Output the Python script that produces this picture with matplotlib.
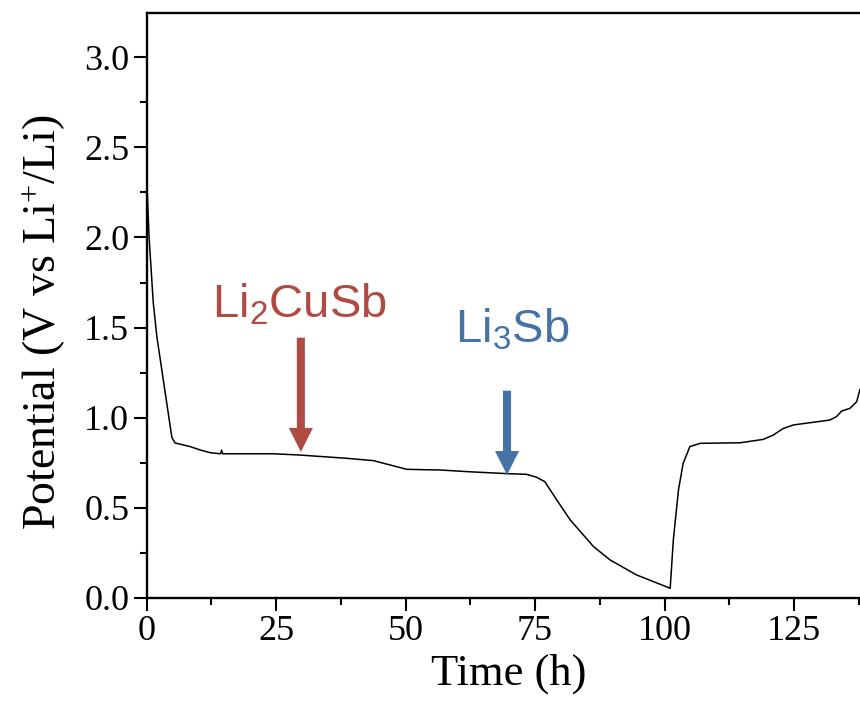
#! /usr/bin/env python3

import numpy as np
import matplotlib
matplotlib.use("Agg")
import matplotlib.pyplot as plt
from matplotlib.ticker import MultipleLocator, FormatStrFormatter

# potential profile
time_h = [0.0, 0.5, 1.3, 2.0, 4.9, 5.5, 8.4, 10.5, 12.3, 14.3, 14.5, 14.7,
          20.0, 24.5, 29.6, 38.6, 43.8, 47.0, 50.2, 53.0, 56.7, 62.5, 69.5,
          73.4, 75.3, 76.9, 79.2, 81.8, 86.3, 89.5, 94.6, 101.1, 101.7,
          102.7, 103.6, 104.9, 106.9, 114.6, 119.1, 121.0, 122.9, 124.9,
          131.9, 133.2, 134.2, 135.8, 137.1, 137.7, 138.0]
potential = [2.35, 2.00, 1.64, 1.45, 0.89, 0.86, 0.84, 0.82, 0.806, 0.80, 0.82, 0.80,
             0.80, 0.80, 0.793, 0.775, 0.762, 0.738, 0.714, 0.712, 0.71, 0.70, 0.69,
             0.686, 0.67, 0.645, 0.544, 0.433, 0.285, 0.211, 0.128, 0.054, 0.32,
             0.60, 0.747, 0.84, 0.858, 0.861, 0.88, 0.904, 0.94, 0.96,
             0.987, 1.006, 1.037, 1.052, 1.089, 1.154, 1.17]

# phase markers: label, colour, arrow tip (t, V), arrow tail V, text anchor
phase_labels = ["Li$_{\\mathregular{2}}$CuSb", "Li$_{\\mathregular{3}}$Sb"]
phase_colors = ["#B04A43", "#4673A6"]
arrow_tips = [(29.8, 0.81), (69.6, 0.682)]
arrow_tails = [1.444, 1.150]
label_pos = [(12.6, 1.558), (59.6, 1.42)]

if __name__ == "__main__":
    fig = plt.figure(figsize=(8.6, 7.16), dpi=100)
    # axes run past the right edge of the figure, as in the reference
    ax = fig.add_axes([146.5 / 860, 118 / 716, 725.2 / 860, 585 / 716])

    ax.plot(time_h, potential, color="black", lw=1.1)

    ax.set_xlim(0, 140)
    ax.set_ylim(0, 3.245)
    ax.xaxis.set_major_locator(MultipleLocator(25))
    ax.xaxis.set_minor_locator(MultipleLocator(12.5))
    ax.yaxis.set_major_locator(MultipleLocator(0.5))
    ax.yaxis.set_minor_locator(MultipleLocator(0.25))
    ax.yaxis.set_major_formatter(FormatStrFormatter("%.1f"))

    for s in ax.spines.values():
        s.set_linewidth(1.7)
    ax.tick_params(which="major", direction="out", length=9.4, width=1.5,
                   labelsize=26, pad=3)
    ax.tick_params(which="minor", direction="out", length=4.7, width=1.5)
    for lab in ax.get_xticklabels() + ax.get_yticklabels():
        lab.set_fontfamily("Liberation Serif")

    ax.set_xlabel("Time (h)", fontsize=32, family="Liberation Serif", labelpad=4)
    ax.set_ylabel("Potential (V vs Li$^{\\mathregular{+}}$/Li)", fontsize=33,
                  family="Liberation Serif")
    ax.yaxis.set_label_coords(-0.110, 0.472)

    plt.rcParams["mathtext.default"] = "regular"
    for lab, col, tip, tail, pos in zip(phase_labels, phase_colors, arrow_tips,
                                         arrow_tails, label_pos):
        ax.text(pos[0], pos[1], lab, color=col, fontsize=34,
                family="Liberation Sans", ha="left", va="baseline")
        ax.annotate("", xy=tip, xytext=(tip[0], tail),
                    arrowprops=dict(arrowstyle="simple,head_length=1.73,head_width=1.73,tail_width=0.58",
                                    mutation_scale=10, color=col, lw=0,
                                    shrinkA=0, shrinkB=0))

    fig.savefig("out.png", dpi=100)
